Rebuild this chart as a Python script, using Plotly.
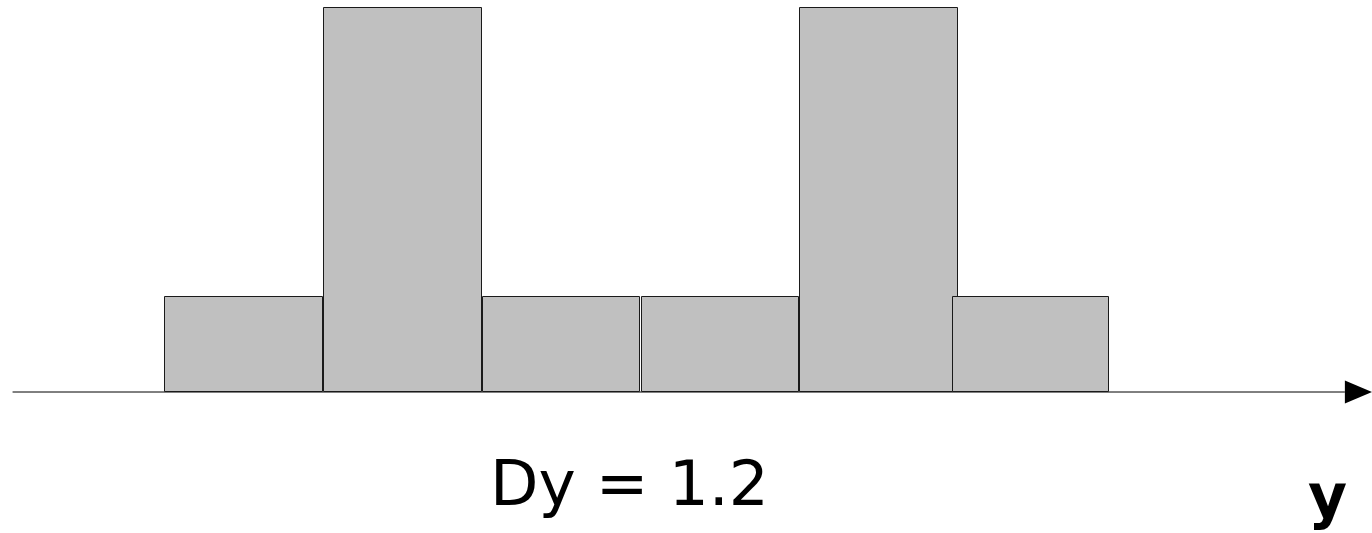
import plotly.graph_objects as go

# Data: histogram bins along y (bin width Dy = 1.2)
bin_left = [-3.595, -2.395, -1.195, 0.005, 1.205, 2.355]
bin_width = [1.19, 1.19, 1.19, 1.19, 1.19, 1.18]
counts = [1.0, 4.04, 1.0, 1.0, 4.04, 1.0]
label_text = "Dy = 1.2"
axis_label = "y"

centers = [l + w / 2 for l, w in zip(bin_left, bin_width)]

fig = go.Figure()
fig.add_trace(go.Bar(
    x=centers, y=counts, width=bin_width,
    marker=dict(color="#c0c0c0", line=dict(color="#1a1a1a", width=1)),
    hoverinfo="skip",
))

x_min, x_max = -4.845, 5.525
y_min, y_max = -1.484, 4.126

# axis line and arrow head
fig.add_shape(type="line", x0=-4.75, x1=5.32, y0=0, y1=0,
              line=dict(color="black", width=1), layer="below")
fig.add_shape(type="path",
              path="M 5.32 0.12 L 5.525 0 L 5.32 -0.12 Z",
              fillcolor="black", line=dict(color="black", width=0))

fig.add_annotation(x=-0.09, y=-0.96, text=label_text, showarrow=False,
                   font=dict(family="DejaVu Sans", size=63, color="black"),
                   xanchor="center", yanchor="middle")
fig.add_annotation(x=5.185, y=-1.09, text="<b>" + axis_label + "</b>", showarrow=False,
                   font=dict(family="DejaVu Sans", size=60, color="black"),
                   xanchor="center", yanchor="middle")

fig.update_layout(
    width=1372, height=533,
    margin=dict(l=0, r=0, t=0, b=0),
    paper_bgcolor="white", plot_bgcolor="white",
    showlegend=False, bargap=0,
    xaxis=dict(range=[x_min, x_max], visible=False, fixedrange=True),
    yaxis=dict(range=[y_min, y_max], visible=False, fixedrange=True),
)

fig.write_html("out.html", config={"displayModeBar": False},
               post_script="document.body.style.margin='0';document.body.style.overflow='hidden';")
